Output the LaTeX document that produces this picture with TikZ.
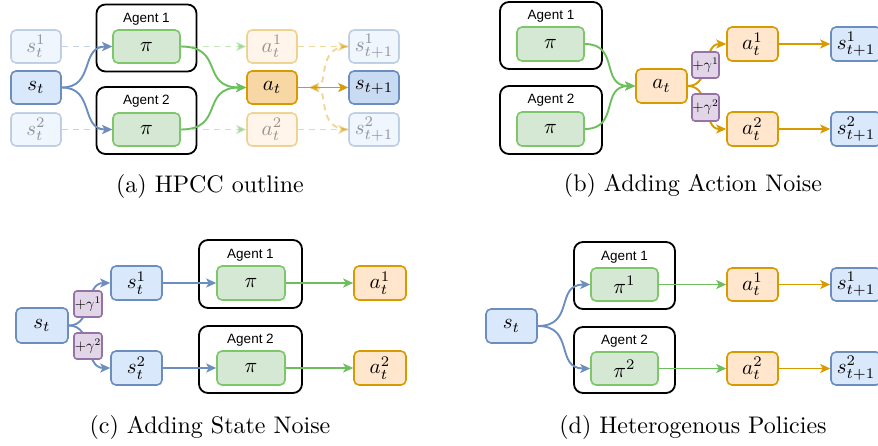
\documentclass[tikz,border=0pt]{standalone}
\usepackage{fontspec}
\usepackage{graphicx}
\newfontfamily\agentfont{Liberation Sans}
\usetikzlibrary{arrows.meta}
\definecolor{bfill}{HTML}{DAE8FC}
\definecolor{bdraw}{HTML}{6C8EBF}
\definecolor{gfill}{HTML}{D5E8D4}
\definecolor{gdraw}{HTML}{7DC76A}
\definecolor{garr}{HTML}{6DBF5E}
\definecolor{ofill}{HTML}{FFE6CC}
\definecolor{odraw}{HTML}{D79B00}
\definecolor{pfill}{HTML}{E1D5E7}
\definecolor{pdraw}{HTML}{9673A6}
\newcommand{\mtx}[1]{\scalebox{2.1}{$#1$}}
\newcommand{\gtx}[1]{\scalebox{1.45}{$#1$}}
\newcommand{\captx}[1]{\scalebox{2.4}{#1}}
\tikzset{
  bx/.style={rounded corners=5pt, line width=1.6pt, inner sep=0pt, minimum width=50pt, minimum height=33pt},
  sbox/.style={bx, fill=bfill, draw=bdraw},
  pbox/.style={bx, fill=gfill, draw=gdraw, minimum width=67pt},
  obox/.style={bx, fill=ofill, draw=odraw},
  gbox/.style={rounded corners=3pt, line width=1.6pt, inner sep=0pt, fill=pfill, draw=pdraw, minimum width=27pt, minimum height=26pt},
  agbox/.style={rounded corners=9pt, line width=1.8pt, draw=black, fill=white, inner sep=0pt, minimum width=100pt, minimum height=67pt},
  aglabel/.style={font=\agentfont\fontsize{13.5}{15}\selectfont, inner sep=0pt},
  faded/.style={opacity=0.4},
  arr/.style={line width=1.9pt, -{Stealth[length=10pt,width=9pt,inset=2.5pt]}},
  barr/.style={arr, draw=bdraw, color=bdraw},
  garrow/.style={arr, draw=garr, color=garr},
  oarr/.style={arr, draw=odraw, color=odraw},
  dsh/.style={dash pattern=on 6pt off 5pt},
  capt/.style={inner sep=0pt}
}
\begin{document}
\begin{tikzpicture}[x=1pt, y=-1pt]
\useasboundingbox (0,0) rectangle (878,445);
% ================= (a) =================
\node[agbox] (ag1a) at (146.5,38) {};
\node[aglabel] (l1a) at (146.5,19) {Agent 1};
\node[agbox] (ag2a) at (146.5,120.5) {};
\node[aglabel] (l2a) at (146.5,101) {Agent 2};
\node[sbox, faded] (s1a) at (36,46.5) {\mtx{s_t^1}};
\node[sbox] (s0a) at (36,87.5) {\mtx{s_t}};
\node[sbox, faded] (s2a) at (36,129.5) {\mtx{s_t^2}};
\node[pbox] (pi1a) at (146.5,46.5) {\mtx{\pi}};
\node[pbox] (pi2a) at (146.5,129.5) {\mtx{\pi}};
\node[obox, faded] (a1a) at (272,46.5) {\mtx{a_t^1}};
\node[obox, fill=ofill!80!odraw] (a0a) at (272,87.5) {\mtx{a_t}};
\node[obox, faded] (a2a) at (272,129.5) {\mtx{a_t^2}};
\node[sbox, faded] (n1a) at (374,46.5) {\mtx{s_{t+1}^1}};
\node[sbox, fill=bfill!85!bdraw] (n0a) at (374,87.5) {\mtx{s_{t+1}}};
\node[sbox, faded] (n2a) at (374,129.5) {\mtx{s_{t+1}^2}};
\coordinate (ra) at (309,87.5);
\draw[barr, dsh, faded] (s1a) -- (pi1a);
\draw[barr, dsh, faded] (s2a) -- (pi2a);
\draw[barr] (s0a.east) .. controls (95,87.5) and (80,46.5) .. (pi1a.west);
\draw[barr] (s0a.east) .. controls (95,87.5) and (80,129.5) .. (pi2a.west);
\draw[garrow, dsh, faded] (pi1a) -- (a1a);
\draw[garrow, dsh, faded] (pi2a) -- (a2a);
\draw[garrow] (pi1a.east) .. controls (225,46.5) and (200,87.5) .. (a0a.west);
\draw[garrow] (pi2a.east) .. controls (225,129.5) and (200,87.5) .. (a0a.west);
\draw[oarr, dsh, faded] (a1a) -- (n1a);
\draw[oarr, dsh, faded] (a2a) -- (n2a);
\draw[oarr, dsh, faded] (n1a.west) .. controls (315,46.5) and (330,87.5) .. (ra);
\draw[oarr, dsh, faded] (n2a.west) .. controls (315,129.5) and (330,87.5) .. (ra);
\draw[oarr] (a0a) -- (n0a);
\node[capt] (capa) at (210,186) {\captx{(a) HPCC outline}};
% ================= (b) =================
\node[agbox, minimum width=102pt] (ag1b) at (551,35.5) {};
\node[aglabel] (l1b) at (551,16) {Agent 1};
\node[agbox, minimum width=102pt, minimum height=68pt] (ag2b) at (551,120) {};
\node[aglabel] (l2b) at (551,100) {Agent 2};
\node[pbox, minimum height=34pt] (pi1b) at (550.5,44) {\mtx{\pi}};
\node[pbox, minimum height=34pt] (pi2b) at (550.5,129) {\mtx{\pi}};
\node[obox, minimum height=34pt, minimum width=51pt] (atb) at (661.5,86) {\mtx{a_t}};
\node[obox, minimum height=34pt, minimum width=51pt] (a1b) at (752.5,44) {\mtx{a_t^1}};
\node[obox, minimum height=34pt, minimum width=51pt] (a2b) at (752.5,129) {\mtx{a_t^2}};
\node[sbox, minimum height=34pt] (n1b) at (856,44) {\mtx{s_{t+1}^1}};
\node[sbox, minimum height=34pt] (n2b) at (856,129) {\mtx{s_{t+1}^2}};
\draw[garrow] (pi1b.east) .. controls (620,44) and (600,86) .. (atb.west);
\draw[garrow] (pi2b.east) .. controls (620,129) and (600,86) .. (atb.west);
\draw[oarr] (atb.east) .. controls (712,86) and (702,44) .. (a1b.west);
\draw[oarr] (atb.east) .. controls (712,86) and (702,129) .. (a2b.west);
\draw[oarr] (a1b) -- (n1b);
\draw[oarr] (a2b) -- (n2b);
\node[gbox] (g1b) at (705.5,65) {\gtx{+\gamma^1}};
\node[gbox, minimum height=27pt] (g2b) at (705.5,107.5) {\gtx{+\gamma^2}};
\node[capt] (capb) at (693,185) {\captx{(b) Adding Action Noise}};
% ================= (c) =================
\node[agbox, minimum width=103pt, minimum height=68pt] (ag1c) at (250.5,274) {};
\node[aglabel] (l1c) at (250.5,255) {Agent 1};
\node[agbox, minimum width=103pt, minimum height=67pt] (ag2c) at (250.5,359.5) {};
\node[aglabel] (l2c) at (250.5,340) {Agent 2};
\node[sbox, minimum width=52pt, minimum height=35pt] (s0c) at (42,325.5) {\mtx{s_t}};
\node[sbox, minimum width=51pt, minimum height=34pt] (s1c) at (136.5,283) {\mtx{s_t^1}};
\node[sbox, minimum width=51pt, minimum height=34pt] (s2c) at (136.5,368) {\mtx{s_t^2}};
\node[pbox, minimum width=68pt, minimum height=34pt] (pi1c) at (251,283) {\mtx{\pi}};
\node[pbox, minimum width=68pt, minimum height=34pt] (pi2c) at (251,368) {\mtx{\pi}};
\node[obox, minimum width=52pt, minimum height=34pt] (a1c) at (380,283) {\mtx{a_t^1}};
\node[obox, minimum width=52pt, minimum height=34pt] (a2c) at (380,368) {\mtx{a_t^2}};
\draw[barr] (s0c.east) .. controls (94,325.5) and (84,283) .. (s1c.west);
\draw[barr] (s0c.east) .. controls (94,325.5) and (84,368) .. (s2c.west);
\draw[barr] (s1c) -- (pi1c);
\draw[barr] (s2c) -- (pi2c);
\draw[garrow] (pi1c) -- (a1c);
\draw[garrow] (pi2c) -- (a2c);
\node[gbox, minimum width=28pt] (g1c) at (88,304) {\gtx{+\gamma^1}};
\node[gbox, minimum width=28pt] (g2c) at (88,346) {\gtx{+\gamma^2}};
\node[capt] (capc) at (210,427) {\captx{(c) Adding State Noise}};
% ================= (d) =================
\node[agbox, minimum width=101pt, minimum height=67pt] (ag1d) at (624.5,275.5) {};
\node[aglabel] (l1d) at (624.5,257) {Agent 1};
\node[agbox, minimum width=101pt, minimum height=66pt] (ag2d) at (624.5,360) {};
\node[aglabel] (l2d) at (624.5,341) {Agent 2};
\node[sbox, minimum width=51pt, minimum height=34pt] (s0d) at (511.5,326) {\mtx{s_t}};
\node[pbox, minimum height=33pt] (pi1d) at (624.5,284.5) {\mtx{\pi^1}};
\node[pbox, minimum height=33pt] (pi2d) at (624.5,368.5) {\mtx{\pi^2}};
\node[obox, minimum width=51pt] (a1d) at (752.5,284.5) {\mtx{a_t^1}};
\node[obox, minimum width=51pt] (a2d) at (752.5,368.5) {\mtx{a_t^2}};
\node[sbox] (n1d) at (856,284.5) {\mtx{s_{t+1}^1}};
\node[sbox] (n2d) at (856,368.5) {\mtx{s_{t+1}^2}};
\draw[barr] (s0d.east) .. controls (575,326) and (555,284.5) .. (pi1d.west);
\draw[barr] (s0d.east) .. controls (575,326) and (555,368.5) .. (pi2d.west);
\draw[garrow] (pi1d) -- (a1d);
\draw[garrow] (pi2d) -- (a2d);
\draw[oarr] (a1d) -- (n1d);
\draw[oarr] (a2d) -- (n2d);
\node[capt] (capd) at (693,427) {\captx{(d) Heterogenous Policies}};
\end{tikzpicture}
\end{document}
